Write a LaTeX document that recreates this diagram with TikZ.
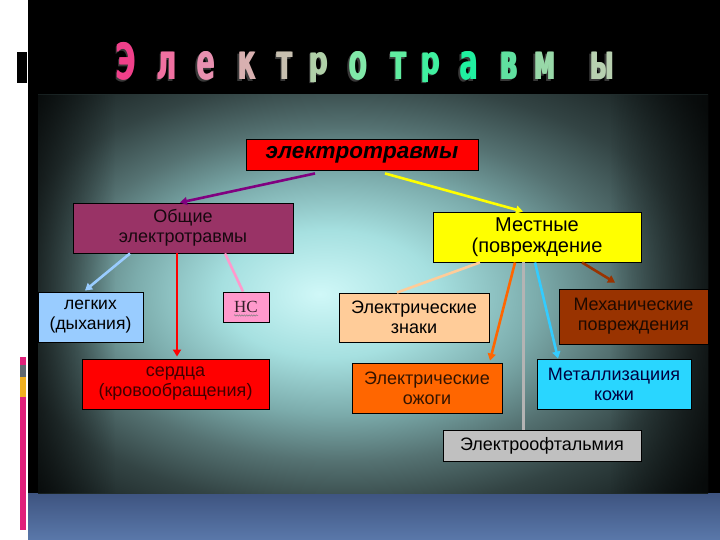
\documentclass[tikz,border=0pt]{standalone}
\usepackage{fontspec}
\setmainfont{Liberation Sans}
\newfontfamily\titlefont{DejaVu Sans}
\newfontfamily\tnrfont{Liberation Serif}
\usetikzlibrary{arrows.meta,decorations.pathmorphing,fadings}
\definecolor{pc1}{HTML}{D0F8F8}
\definecolor{pc2}{HTML}{A6E0E0}
\definecolor{pc3}{HTML}{7CACAC}
\definecolor{pc4}{HTML}{557272}
\definecolor{pc5}{HTML}{334444}
\definecolor{pc6}{HTML}{141C1C}
\definecolor{bl1}{HTML}{3E5480}
\definecolor{bl2}{HTML}{5A78AA}
\definecolor{magbar}{HTML}{E0207A}
\definecolor{graybar}{HTML}{606870}
\definecolor{goldbar}{HTML}{F0B020}
\definecolor{t1}{HTML}{F0408A}
\definecolor{t2}{HTML}{F070A0}
\definecolor{t3}{HTML}{E890B0}
\definecolor{t4}{HTML}{D8B0B0}
\definecolor{t5}{HTML}{C8C0B0}
\definecolor{t6}{HTML}{B0D0A8}
\definecolor{t7}{HTML}{80E8A8}
\definecolor{t8}{HTML}{60ECA0}
\definecolor{t9}{HTML}{40F0A0}
\definecolor{t10}{HTML}{20F0A0}
\definecolor{t11}{HTML}{60E0A0}
\definecolor{t12}{HTML}{98D8A8}
\definecolor{t13}{HTML}{B8D0B0}
\definecolor{cpurple}{HTML}{800080}
\definecolor{cyellow}{HTML}{FFFF00}
\definecolor{clblue}{HTML}{99CCFF}
\definecolor{cpink}{HTML}{FF99CC}
\definecolor{cpeach}{HTML}{FFCC99}
\definecolor{corange}{HTML}{FF6600}
\definecolor{cgray}{HTML}{B4B4B4}
\definecolor{ccyan}{HTML}{33CCFF}
\definecolor{cbrown}{HTML}{993300}
\definecolor{cmaroon}{HTML}{993366}
\definecolor{csilver}{HTML}{C0C0C0}
\pgfdeclareradialshading{panelshade}{\pgfpoint{-4bp}{0bp}}{%
  color(0bp)=(pc1); color(8bp)=(pc2); color(15bp)=(pc3); color(21bp)=(pc4); color(27bp)=(pc5); color(35bp)=(pc6); color(50bp)=(pc6)}
\tikzfading[name=fadeleft, left color=transparent!0, right color=transparent!100]
\tikzfading[name=faderight, left color=transparent!100, right color=transparent!0]
\tikzset{
  ttl/.style={inner sep=0pt, font=\titlefont\bfseries\fontsize{50}{50}\selectfont},
  box/.style={draw=black, line width=0.9pt, inner sep=1pt, align=center,
    font=\fontsize{18}{20}\selectfont},
  conn/.style={line width=2.6pt},
  arr/.style={conn, -{Triangle[length=7pt,width=8pt]}}
}
\begin{document}
\begin{tikzpicture}[x=1pt,y=-1pt]
\useasboundingbox (0,0) rectangle (720,540);
\fill[white] (0,0) rectangle (720,540);
\fill[black] (28,0) rectangle (720,493);
\fill[top color=bl1,bottom color=bl2] (28,493) rectangle (720,540);
\fill[shading=panelshade] (38,95) rectangle (708,493);
\fill[black, opacity=0.6, path fading=fadeleft] (38,95) rectangle (115,493);
\fill[black, opacity=0.65, path fading=faderight] (610,95) rectangle (708,493);
% left decorations
\fill[black] (17,52) rectangle (27,83);
\fill[magbar] (20,357) rectangle (26,365);
\fill[graybar] (20,365) rectangle (26,377);
\fill[goldbar] (20,377) rectangle (26,397);
\fill[magbar] (20,397) rectangle (26,530);
% title
\foreach \ch/\x/\c [count=\i] in {Э/126/t1,л/167/t2,е/206/t3,к/247/t4,т/285/t5,р/319/t6,о/358/t7,т/399/t8,р/431/t9,а/469/t10,в/509/t11,м/545/t12,ы/602/t13}{
  \ifnum\i=6 \def\ys{0.78}\def\an{north}\def\yy{52}\else
  \ifnum\i=9 \def\ys{0.78}\def\an{north}\def\yy{52}\else
  \def\ys{1}\def\an{base}\def\yy{80}\fi\fi
  \node[ttl, anchor=\an, text=black!55!gray] (s\i) at (\x-2,\yy+1.5) {\scalebox{0.54}[\ys]{\ch}};
  \node[ttl, anchor=\an, text=\c] (u\i) at (\x-0.6,\yy) {\scalebox{0.54}[\ys]{\ch}};
  \node[ttl, anchor=\an, text=\c] (t\i) at (\x+0.6,\yy) {\scalebox{0.54}[\ys]{\ch}};
}
% boxes
\node[box, fill=red, minimum width=232pt, minimum height=31pt,
  font=\fontsize{22.5}{25}\selectfont\bfseries\itshape] (top) at (362,154.5) {электротравмы};
\node[box, fill=cmaroon, text=black!85!cmaroon, minimum width=220pt, minimum height=50pt] (obsh) at (183,228) {Общие\\электротравмы};
\node[box, fill=cyellow, minimum width=208pt, minimum height=50pt,
  font=\fontsize{20}{21}\selectfont] (mest) at (537,237) {Местные\\(повреждение};
\node[box, fill=clblue, minimum width=105pt, minimum height=50pt,
  font=\fontsize{17.5}{20}\selectfont] (legk) at (90.5,317) {легких\\(дыхания)};
\node[box, fill=cpink, text=black!80!cpink, minimum width=46pt, minimum height=30pt,
  font=\tnrfont\fontsize{17}{18}\selectfont] (ns) at (246,307) {НС};
\node[box, fill=red, text=black!75!red, minimum width=187pt, minimum height=50pt] (serd) at (175.5,384) {сердца\\(кровообращения)};
\node[box, fill=cpeach, minimum width=150pt, minimum height=49pt] (znaki) at (414,317.5) {Электрические\\знаки};
\node[box, fill=cbrown, text=black!80!cbrown, minimum width=149pt, minimum height=55pt] (mech) at (633.5,316.5) {Механические\\повреждения};
\node[box, fill=corange, text=black!80!corange, minimum width=150pt, minimum height=50pt] (ozhog) at (427,388) {Электрические\\ожоги};
\node[box, fill=ccyan!80!cyan, text=black!75!blue, minimum width=154pt, minimum height=50pt] (metal) at (614,384) {Металлизациия\\кожи};
\node[box, fill=csilver, minimum width=198pt, minimum height=31pt] (oft) at (542,445.5) {Электроофтальмия};
% wavy underline under НС
\draw[gray, line width=0.5pt, decorate, decoration={snake, amplitude=0.7pt, segment length=2.4pt}]
  ([xshift=-12pt,yshift=-8.5pt]ns.center) -- ([xshift=12pt,yshift=-8.5pt]ns.center);
% connectors
\draw[arr, cpurple] ([xshift=-47pt,yshift=-3pt]top.south) -- ([xshift=-3pt]obsh.north);
\draw[arr, cyellow] ([xshift=23pt,yshift=-3pt]top.south) -- ([xshift=-14pt]mest.north);
\draw[arr, clblue] ([xshift=-53pt]obsh.south) -- ([xshift=-5.5pt,yshift=1pt]legk.north);
\draw[arr, red] ([xshift=-6pt]obsh.south) -- ([xshift=1.5pt,yshift=2pt]serd.north);
\draw[conn, cpink] ([xshift=42pt]obsh.south) -- ([xshift=-3pt]ns.north);
\draw[conn, cpeach] ([xshift=-57pt]mest.south) -- ([xshift=-17pt]znaki.north);
\draw[arr, corange] ([xshift=-22pt]mest.south) -- ([xshift=63pt,yshift=2pt]ozhog.north);
\draw[conn, cgray, line width=3pt] ([xshift=-14pt]mest.south) -- ([xshift=-19pt]oft.north);
\draw[arr, ccyan] ([xshift=-2pt]mest.south) -- ([xshift=-56pt]metal.north);
\draw[arr, cbrown] ([xshift=45pt]mest.south) -- ([xshift=-18.5pt,yshift=6pt]mech.north);
\end{tikzpicture}
\end{document}
